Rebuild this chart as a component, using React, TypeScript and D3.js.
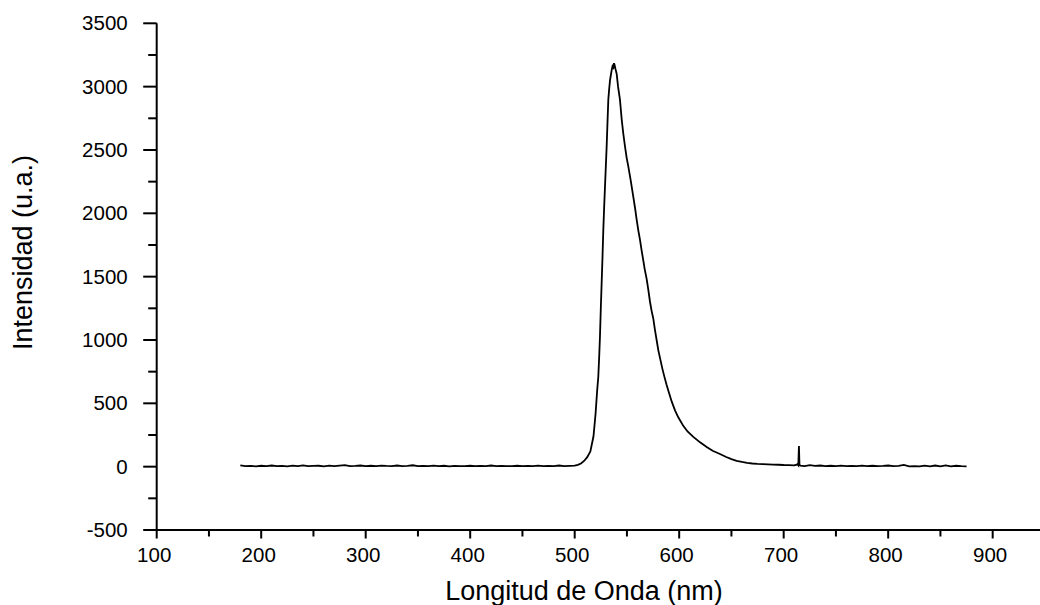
import React from "react";
import * as d3 from "d3";

// Wavelength (nm) and intensity (u.a.)
const baseLeftNm = [180,185,190,195,200,205,210,215,220,225,230,235,240,245,250,255,260,265,270,275,280,285,290,295,300,305,310,315,320,325,330,335,340,345,350,355,360,365,370,375,380,385,390,395,400,405,410,415,420,425,430,435,440,445,450,455,460,465,470,475,480,485,490,495];
const baseLeftVal = [10,4,6,3,7,5,9,4,6,3,8,5,10,4,6,7,3,8,5,9,12,4,6,9,5,7,4,8,6,5,9,4,7,11,5,6,4,8,5,7,3,6,5,4,7,5,6,4,9,5,6,4,5,7,4,6,5,8,4,6,5,9,4,6];

const peakNm = [500,503,506,509,512,515,518,520,521.5,522.6,523.5,524.2,525,525.8,526.6,527.4,528.2,529,529.8,530.6,531.4,532.2,533,533.8,534.6,535.4,536.2,537,537.6,538.2,539,540.2,541.5,543.3,545,546.5,548.1,549.7,551.3,553.6,556.1,557.8,559.3,561,562.5,564,565.6,567,568.9,570.4,572.1,573.6,575.2,576.8,578.4,580,582,584,586,588,590,592.8,596,599,603.9,608,613.5,620,626.3,632,639,645,650,655,660,665,670,675,680,685,690,695,700,705,710,712,713,714,714.6,715.1,716];
const peakVal = [8,14,25,45,75,120,240,420,600,710,880,1030,1250,1450,1650,1870,2050,2210,2370,2530,2720,2900,2980,3050,3090,3130,3160,3150,3185,3170,3140,3100,3000,2900,2740,2630,2530,2440,2370,2260,2130,2040,1950,1860,1790,1710,1630,1560,1480,1400,1300,1230,1170,1080,1000,920,845,770,705,645,590,515,445,392,322,278,235,192,156,125,100,76,59,46,37,30,25,22,20,18,16,15,13,12,10,14,20,10,162,15,8];

const baseRightNm = [720,725,730,735,740,745,750,755,760,765,770,775,780,785,790,795,800,805,810,815,820,825,830,835,840,845,850,855,860,865,870,875];
const baseRightVal = [5,12,6,9,4,7,5,8,4,6,5,8,4,7,5,6,9,4,7,14,3,5,2,8,3,9,2,10,3,7,4,3];

const xMajorTicks = [100,200,300,400,500,600,700,800,900];
const xMinorTicks = [150,250,350,450,550,650,750,850];
const yMajorTicks = [-500,0,500,1000,1500,2000,2500,3000,3500];
const yMinorTicks = [-250,250,750,1250,1750,2250,2750,3250];

const xLabel = "Longitud de Onda (nm)";
const yLabel = "Intensidad (u.a.)";

export default function App() {
  const W = 1040, H = 605;
  const x = d3.scaleLinear().domain([100, 945]).range([156.7, 1039.7]);
  const y = d3.scaleLinear().domain([-500, 3500]).range([530, 23.3]);
  const nm = [...baseLeftNm, ...peakNm, ...baseRightNm];
  const val = [...baseLeftVal, ...peakVal, ...baseRightVal];
  const pts: [number, number][] = nm.map((n, i) => [n, val[i]]);
  const line = d3.line<[number, number]>().x(d => x(d[0])).y(d => y(d[1]));
  const font = "'Liberation Sans', Arial, sans-serif";
  const x0 = x(100), yb = y(-500);
  return (
    <svg width={W} height={H} style={{ position: "absolute", left: 0, top: 0, background: "#fff" }} fontFamily={font}>
      <rect width={W} height={H} fill="#fff" />
      {/* axes */}
      <line x1={x0} x2={x0} y1={y(3500)} y2={yb + 1} stroke="#000" strokeWidth={2} />
      <line x1={x0} x2={W} y1={yb} y2={yb} stroke="#000" strokeWidth={2} />
      {yMajorTicks.map(t => (
        <g key={"ym" + t}>
          <line x1={x0 - 13.5} x2={x0} y1={y(t)} y2={y(t)} stroke="#000" strokeWidth={2} />
          <text x={127.7} y={y(t) + 7} textAnchor="end" fontSize={20.5} fill="#000">{t}</text>
        </g>
      ))}
      {yMinorTicks.map(t => (
        <line key={"yn" + t} x1={x0 - 8.5} x2={x0} y1={y(t)} y2={y(t)} stroke="#000" strokeWidth={2} />
      ))}
      {xMajorTicks.map(t => (
        <g key={"xm" + t}>
          <line x1={x(t)} x2={x(t)} y1={yb} y2={yb + 8.5} stroke="#000" strokeWidth={2} />
          <text x={x(t) - 2.5} y={562} textAnchor="middle" fontSize={20.5} fill="#000">{t}</text>
        </g>
      ))}
      {xMinorTicks.map(t => (
        <line key={"xn" + t} x1={x(t)} x2={x(t)} y1={yb} y2={yb + 6.5} stroke="#000" strokeWidth={2} />
      ))}
      {/* labels */}
      <text x={584} y={600} textAnchor="middle" fontSize={27} fill="#000">{xLabel}</text>
      <text transform="translate(32,252.5) rotate(-90)" textAnchor="middle" fontSize={27} fill="#000">{yLabel}</text>
      {/* spectrum */}
      <path d={line(pts) || ""} fill="none" stroke="#000" strokeWidth={1.8} strokeLinejoin="miter" />
    </svg>
  );
}
